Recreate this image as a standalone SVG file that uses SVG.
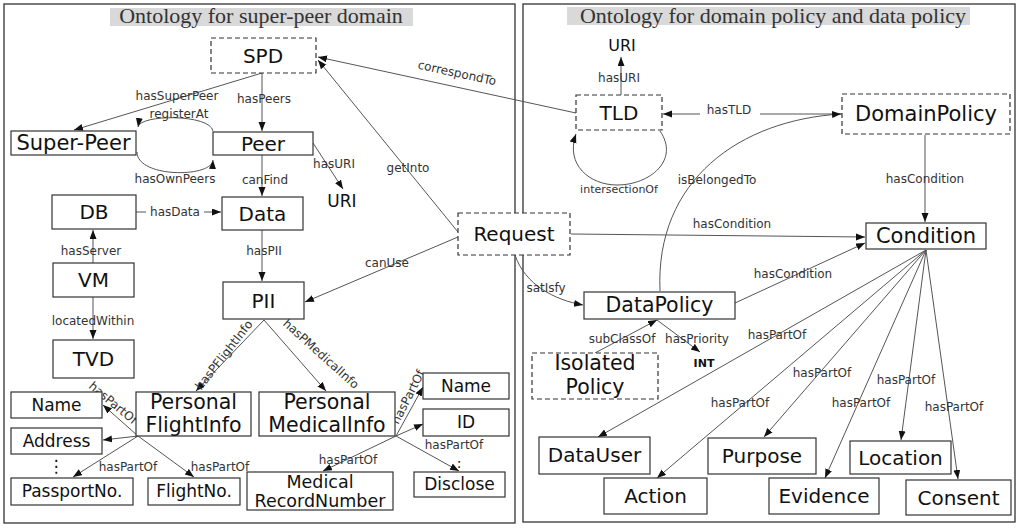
<svg xmlns="http://www.w3.org/2000/svg" width="1024" height="531" viewBox="0 0 1024 531">
<style>
.panel{fill:none;stroke:#333;stroke-width:1.3}
.tbg{fill:#d9d9d9}
.title{font-family:"Liberation Serif",serif;font-size:22px;fill:#333;text-anchor:middle}
.box{fill:#fff;stroke:#333;stroke-width:1.2}
.dbox{fill:#fff;stroke:#333;stroke-width:1.2;stroke-dasharray:5,3}
.nt{font-family:"DejaVu Sans",sans-serif;font-size:20px;fill:#111;text-anchor:middle}
.st{font-family:"DejaVu Sans",sans-serif;font-size:17px;fill:#111;text-anchor:middle}
.el{font-family:"DejaVu Sans",sans-serif;font-size:12px;fill:#333;text-anchor:middle}
.edge{fill:none;stroke:#555;stroke-width:1;marker-end:url(#ah)}
.line{fill:none;stroke:#555;stroke-width:1}
</style>
<defs>
<marker id="ah" markerUnits="userSpaceOnUse" markerWidth="10" markerHeight="8" refX="9" refY="3.5" orient="auto">
<path d="M0,0 L9,3.5 L0,7 z" fill="#111"/>
</marker>
</defs>
<rect width="1024" height="531" fill="#fff"/>
<g id="panels">
<rect class="panel" x="4" y="4" width="511" height="519"/>
<rect class="panel" x="523" y="4" width="492" height="518"/>
<rect class="tbg" x="110" y="8" width="303" height="18"/>
<text class="title" x="261" y="23">Ontology for super-peer domain</text>
<rect class="tbg" x="567" y="7" width="403" height="18"/>
<text class="title" x="773" y="23">Ontology for domain policy and data policy</text>
</g>
<g id="connectors">
<path class="edge" d="M262,73 L74,130"/>
<path class="edge" d="M262,73 L262,131"/>
<path class="edge" d="M213,131 C210,114 140,114 138,127"/>
<path class="edge" d="M137,152 C137,178 212,178 213,160"/>
<path class="edge" d="M313,143 L343,189"/>
<path class="edge" d="M262,155 L262,196"/>
<path class="edge" d="M136,212 L221,212"/>
<path class="edge" d="M262,230 L262,281"/>
<path class="edge" d="M93,263 L93,230"/>
<path class="edge" d="M93,297 L93,339"/>
<path class="edge" d="M458,232 L318,60"/>
<path class="edge" d="M458,237 L305,302"/>
<path class="edge" d="M576,113 L318,57"/>
<path class="edge" d="M264,320 L196,391"/>
<path class="edge" d="M264,320 L326,391"/>
<path class="edge" d="M138,436 L103,405"/>
<path class="edge" d="M138,436 L103,440"/>
<path class="edge" d="M138,436 L73,477"/>
<path class="edge" d="M138,436 L194,477"/>
<path class="edge" d="M396,436 L423,387"/>
<path class="edge" d="M396,436 L423,424"/>
<path class="edge" d="M396,436 L459,471"/>
<path class="edge" d="M396,436 L323,471"/>
<path class="edge" d="M621,95 L621,57"/>
<path class="edge" d="M842,114 L663,114"/>
<path class="edge" d="M660,131 C680,160 650,185 617,185 C590,185 565,165 576,134"/>
<path class="edge" d="M660,291 C655,180 740,120 841,114"/>
<path class="edge" d="M925,135 L925,222"/>
<path class="edge" d="M571,234 L865,237"/>
<path class="edge" d="M735,303 L865,243"/>
<path class="edge" d="M515,255 C525,285 555,300 583,305"/>
<path class="edge" d="M595,353 L657,320"/>
<path class="edge" d="M657,320 L700,352"/>
<path class="edge" d="M926,250 L598,437"/>
<path class="edge" d="M926,250 L657,478"/>
<path class="edge" d="M926,250 L764,437"/>
<path class="edge" d="M926,250 L825,478"/>
<path class="edge" d="M926,250 L901,440"/>
<path class="edge" d="M926,250 L958,479"/>
<rect x="146" y="204" width="58" height="16" fill="#fff"/>
<rect x="700" y="104" width="60" height="16" fill="#fff"/>
<text class="el" x="177" y="100">hasSuperPeer</text>
<text class="el" x="264" y="103">hasPeers</text>
<text class="el" x="179" y="118">registerAt</text>
<text class="el" x="175" y="183">hasOwnPeers</text>
<text class="el" x="334" y="168">hasURI</text>
<text class="el" x="265" y="184">canFind</text>
<text class="el" x="175" y="216">hasData</text>
<text class="el" x="264" y="255">hasPII</text>
<text class="el" x="91" y="255">hasServer</text>
<text class="el" x="93" y="325">locatedWithin</text>
<text class="el" x="408" y="172">getInto</text>
<text class="el" x="387" y="267">canUse</text>
<text class="el" transform="translate(457,73) rotate(12.2)" y="4">correspondTo</text>
<text class="el" transform="translate(224,355) rotate(-52)" y="4">hasPFlightInfo</text>
<text class="el" transform="translate(321,354) rotate(42)" y="4">hasPMedicalInfo</text>
<text class="el" transform="translate(113,403) rotate(40)" y="4">hasPartOf</text>
<text class="el" x="128" y="471">hasPartOf</text>
<text class="el" x="220" y="471">hasPartOf</text>
<text class="el" transform="translate(408,397) rotate(-63)" y="4">hasPartOf</text>
<text class="el" x="454" y="449">hasPartOf</text>
<text class="el" x="348" y="464">hasPartOf</text>
<text class="el" x="619" y="82">hasURI</text>
<text class="el" x="729" y="114">hasTLD</text>
<text class="el" x="619" y="193" style="font-size:11px">intersectionOf</text>
<text class="el" x="717" y="184">isBelongedTo</text>
<text class="el" x="925" y="183">hasCondition</text>
<text class="el" x="732" y="228">hasCondition</text>
<text class="el" x="793" y="278">hasCondition</text>
<text class="el" x="546" y="292">satIsfy</text>
<text class="el" x="622" y="343">subClassOf</text>
<text class="el" x="697" y="343">hasPriority</text>
<text class="el" x="777" y="339">hasPartOf</text>
<text class="el" x="822" y="377">hasPartOf</text>
<text class="el" x="740" y="407">hasPartOf</text>
<text class="el" x="861" y="407">hasPartOf</text>
<text class="el" x="906" y="384">hasPartOf</text>
<text class="el" x="954" y="411">hasPartOf</text>
</g>
<g id="n-spd"><rect class="dbox" x="211" y="38" width="105" height="35"/><text class="nt" x="263" y="63">SPD</text></g>
<g id="n-superpeer"><rect class="box" x="11" y="131" width="125" height="24"/><text class="nt" x="73.5" y="150" style="font-size:21px">Super-Peer</text></g>
<g id="n-peer"><rect class="box" x="213" y="132" width="100" height="23"/><text class="nt" x="263" y="151">Peer</text></g>
<g id="n-uri-left"><text class="st" x="342" y="207">URI</text></g>
<g id="n-db"><rect class="box" x="52" y="195" width="84" height="34"/><text class="nt" x="94" y="219">DB</text></g>
<g id="n-data"><rect class="box" x="222" y="197" width="81" height="33"/><text class="nt" x="262.5" y="221">Data</text></g>
<g id="n-vm"><rect class="box" x="53" y="263" width="81" height="34"/><text class="nt" x="93.5" y="287">VM</text></g>
<g id="n-tvd"><rect class="box" x="53" y="340" width="81" height="38"/><text class="nt" x="93.5" y="366">TVD</text></g>
<g id="n-pii"><rect class="box" x="223" y="282" width="81" height="37"/><text class="nt" x="263.5" y="308">PII</text></g>
<g id="n-request"><rect class="dbox" x="458" y="213" width="112" height="42"/><text class="nt" x="514" y="241">Request</text></g>
<g id="n-name-l"><rect class="box" x="11" y="392" width="91" height="26"/><text class="st" x="56.5" y="411">Name</text></g>
<g id="n-address"><rect class="box" x="11" y="428" width="91" height="26"/><text class="st" x="56.5" y="447">Address</text></g>
<g id="dots-l"><text class="st" x="56" y="472">⋮</text></g>
<g id="n-passport"><rect class="box" x="11" y="478" width="122" height="27"/><text class="st" x="72" y="497">PassportNo.</text></g>
<g id="n-flightno"><rect class="box" x="148" y="478" width="92" height="27"/><text class="st" x="194" y="497">FlightNo.</text></g>
<g id="n-pflight"><rect class="box" x="136" y="392" width="115" height="44"/><text class="nt" x="193.5" y="409" style="font-size:20.5px">Personal</text><text class="nt" x="193.5" y="432" style="font-size:20.5px">FlightInfo</text></g>
<g id="n-pmedical"><rect class="box" x="259" y="392" width="136" height="44"/><text class="nt" x="327" y="409" style="font-size:20.5px">Personal</text><text class="nt" x="327" y="432" style="font-size:20.5px">MedicalInfo</text></g>
<g id="n-name-r"><rect class="box" x="423" y="373" width="86" height="26"/><text class="st" x="466" y="392">Name</text></g>
<g id="n-id"><rect class="box" x="423" y="409" width="86" height="27"/><text class="st" x="466" y="428">ID</text></g>
<g id="dots-r"><text class="st" x="459" y="468" style="font-size:14px">:</text></g>
<g id="n-disclose"><rect class="box" x="414" y="472" width="91" height="25"/><text class="st" x="459.5" y="490">Disclose</text></g>
<g id="n-mrn"><rect class="box" x="247" y="472" width="146" height="38"/><text class="st" x="320" y="488" style="font-size:17.5px">Medical</text><text class="st" x="320" y="507" style="font-size:17.5px">RecordNumber</text></g>
<g id="n-uri-right"><text class="st" x="622" y="51" style="font-size:16px">URI</text></g>
<g id="n-tld"><rect class="dbox" x="576" y="95" width="86" height="35"/><text class="nt" x="619" y="120">TLD</text></g>
<g id="n-domainpolicy"><rect class="dbox" x="842" y="94" width="168" height="40"/><text class="nt" x="926" y="121" style="font-size:21px">DomainPolicy</text></g>
<g id="n-condition"><rect class="box" x="866" y="223" width="120" height="26"/><text class="nt" x="926" y="243" style="font-size:21px">Condition</text></g>
<g id="n-datapolicy"><rect class="box" x="584" y="292" width="151" height="27"/><text class="nt" x="659.5" y="312" style="font-size:20.5px">DataPolicy</text></g>
<g id="n-isolated"><rect class="dbox" x="532" y="353" width="126" height="46"/><text class="nt" x="595" y="370" style="font-size:20.5px">Isolated</text><text class="nt" x="595" y="394" style="font-size:20.5px">Policy</text></g>
<g id="n-int"><text class="el" x="704" y="367" style="font-weight:bold;font-size:11px;fill:#111">INT</text></g>
<g id="n-datauser"><rect class="box" x="539" y="437" width="111" height="37"/><text class="nt" x="594.5" y="462">DataUser</text></g>
<g id="n-action"><rect class="box" x="604" y="478" width="103" height="36"/><text class="nt" x="655.5" y="503">Action</text></g>
<g id="n-purpose"><rect class="box" x="708" y="438" width="108" height="36"/><text class="nt" x="762" y="463">Purpose</text></g>
<g id="n-evidence"><rect class="box" x="769" y="478" width="110" height="36"/><text class="nt" x="824" y="503">Evidence</text></g>
<g id="n-location"><rect class="box" x="850" y="441" width="101" height="33"/><text class="nt" x="900.5" y="464.5">Location</text></g>
<g id="n-consent"><rect class="box" x="906" y="480" width="105" height="35"/><text class="nt" x="958.5" y="504.5">Consent</text></g>
</svg>
